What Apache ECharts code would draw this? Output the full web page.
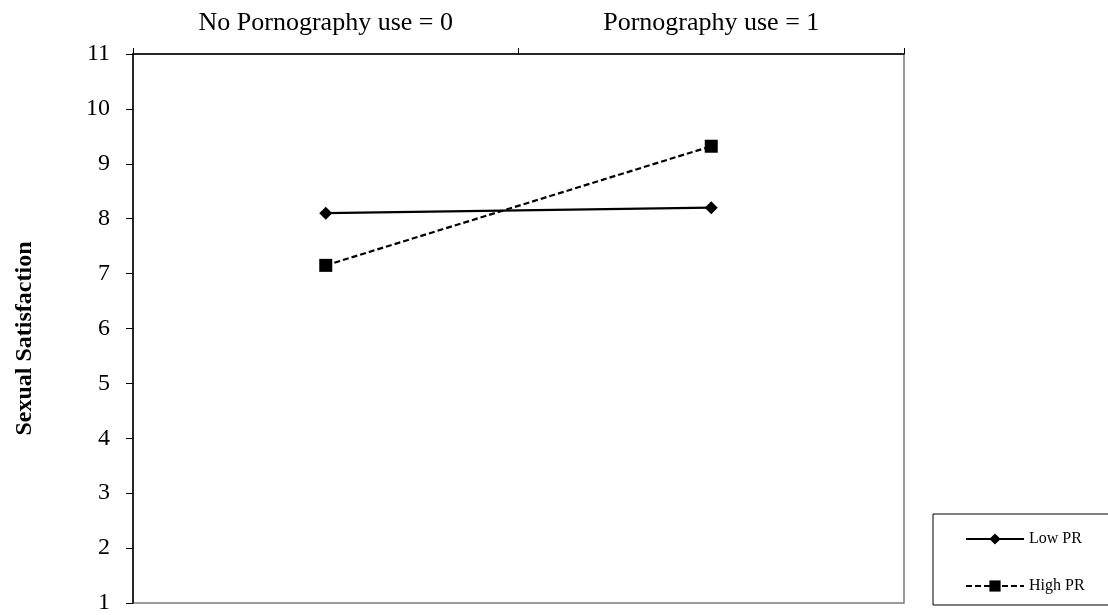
<!DOCTYPE html>
<html>
<head>
<meta charset="utf-8">
<script src="https://cdn.jsdelivr.net/npm/echarts@6/dist/echarts.min.js"></script>
<style>html,body{margin:0;padding:0;background:#fff;}#c{width:1108px;height:615px;}</style>
</head>
<body>
<div id="c"></div>
<script>
const categories = ['No Pornography use = 0', 'Pornography use = 1'];
const lowPR = [8.10, 8.20];
const highPR = [7.15, 9.32];
const seriesNames = ['Low PR', 'High PR'];
const yAxisTitle = 'Sexual Satisfaction';

const FONT = '"Liberation Serif", "Times New Roman", serif';
const chart = echarts.init(document.getElementById('c'));
chart.setOption({
  animation: false,
  backgroundColor: '#fff',
  textStyle: { fontFamily: FONT, color: '#000' },
  grid: { left: 133, right: 204, top: 54, bottom: 7, show: true, borderColor: '#7a7a7a', borderWidth: 1.5, backgroundColor: 'transparent' },
  legend: {
    orient: 'vertical', left: 933, top: 514,
    padding: [17, 60, 11, 32], itemGap: 31,
    itemWidth: 58, itemHeight: 14,
    borderColor: '#000', borderWidth: 1,
    textStyle: { fontFamily: FONT, fontSize: 16, color: '#000' },
    data: seriesNames
  },
  xAxis: {
    type: 'category', position: 'top', data: categories, boundaryGap: true,
    axisLine: { lineStyle: { color: '#000', width: 1.5 } },
    axisTick: { show: true, length: 6, lineStyle: { color: '#000' } },
    axisLabel: { fontFamily: FONT, fontSize: 26, color: '#000', margin: 18 },
    splitLine: { show: false }
  },
  yAxis: {
    type: 'value', min: 1, max: 11, interval: 1,
    name: yAxisTitle, nameLocation: 'middle', nameGap: 96, nameRotate: 90,
    nameTextStyle: { fontFamily: FONT, fontSize: 24, fontWeight: 'bold', color: '#000', padding: [0, 20, 0, 0] },
    axisLine: { show: true, lineStyle: { color: '#000', width: 1.5 } },
    axisTick: { show: true, length: 7, lineStyle: { color: '#000' } },
    axisLabel: { fontFamily: FONT, fontSize: 24, color: '#000', margin: 23 },
    splitLine: { show: false }
  },
  series: [
    { name: seriesNames[0], type: 'line', data: lowPR, symbol: 'diamond', symbolSize: 13,
      itemStyle: { color: '#000' }, lineStyle: { color: '#000', width: 2.2 } },
    { name: seriesNames[1], type: 'line', data: highPR, symbol: 'rect', symbolSize: 13,
      itemStyle: { color: '#000' }, lineStyle: { color: '#000', width: 2.2, type: [6, 3] } }
  ]
});
</script>
</body>
</html>
